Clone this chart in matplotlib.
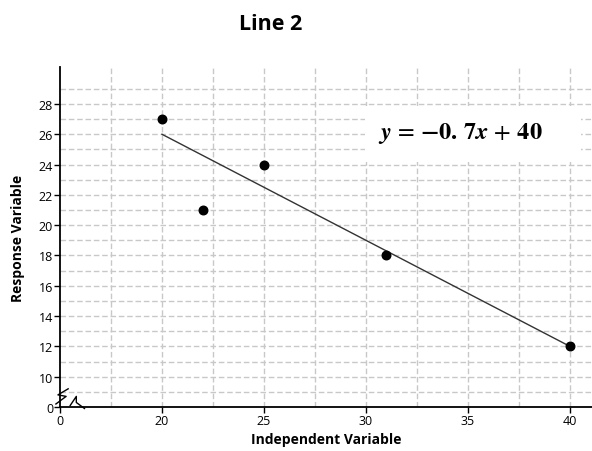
import numpy as np
import matplotlib
matplotlib.use("Agg")
import matplotlib.pyplot as plt
from matplotlib.patches import Rectangle

# data
x_pts = [20, 22, 25, 31, 40]
y_pts = [27, 21, 24, 18, 12]
slope, intercept = -0.7, 40
line_x = [20, 40]

# axis is broken: "0" sits just before the visible range
x_zero_pos, y_zero_pos = 15, 8
x_ticks = [20, 25, 30, 35, 40]
y_ticks = [10, 12, 14, 16, 18, 20, 22, 24, 26, 28]

plt.rcParams['font.family'] = ['Open Sans', 'DejaVu Sans']
plt.rcParams['mathtext.fontset'] = 'stix'

fig = plt.figure(figsize=(5.92, 4.52), dpi=100)
ax = fig.add_axes([60 / 592, 1 - 408 / 452, 532 / 592, 340 / 452])

ax.set_xlim(x_zero_pos, 41.08)
ax.set_ylim(y_zero_pos, 30.44)

# grid
for gx in np.arange(17.5, 41, 2.5):
    ax.axvline(gx, color='#c8c8c8', lw=1, ls=(0, (4, 2)), zorder=0)
for gy in np.arange(9, 30, 1):
    ax.axhline(gy, color='#c8c8c8', lw=1, ls=(0, (4, 2)), zorder=0)

# fitted line and points
line_y = [slope * v + intercept for v in line_x]
ax.plot(line_x, line_y, color='#333333', lw=1, zorder=2)
ax.scatter(x_pts, y_pts, s=38, color='black', zorder=3)

# equation label on a white patch
ax.add_patch(Rectangle((29.95, 24.15), 10.6, 3.7, facecolor='white',
                       edgecolor='none', zorder=1))
ax.text(30.6, 26.15,
        r'$\mathbfit{y}\,=\,\mathbf{-0.\,7}\mathbfit{x}\,+\,\mathbf{40}$',
        fontsize=17.5, ha='left', va='center', zorder=4)

# ticks
ax.set_xticks([x_zero_pos] + x_ticks)
ax.set_xticklabels(['0'] + [str(t) for t in x_ticks])
ax.set_yticks([y_zero_pos] + y_ticks)
ax.set_yticklabels(['0'] + [str(t) for t in y_ticks])
ax.tick_params(labelsize=9, length=4, width=1, pad=1, colors='black')

for s in ['top', 'right']:
    ax.spines[s].set_visible(False)
for s in ['left', 'bottom']:
    ax.spines[s].set_linewidth(1.3)

# axis break marks
ax.plot([14.8, 15.3, 14.9, 15.4], [8.2, 8.7, 8.8, 9.2], color='black', lw=1, clip_on=False)
ax.plot([15.5, 15.8, 15.8, 16.2], [8.1, 8.7, 8.3, 7.9], color='black', lw=1, clip_on=False)

ax.set_xlabel('Independent Variable', fontsize=10, fontweight='bold', labelpad=4)
ax.set_ylabel('Response Variable', fontsize=10, fontweight='bold', labelpad=10)
fig.text(271 / 592, 1 - 25 / 452, 'Line 2', fontsize=15.5, fontweight='bold',
         ha='center', va='center')

fig.savefig('out.png', dpi=100)
